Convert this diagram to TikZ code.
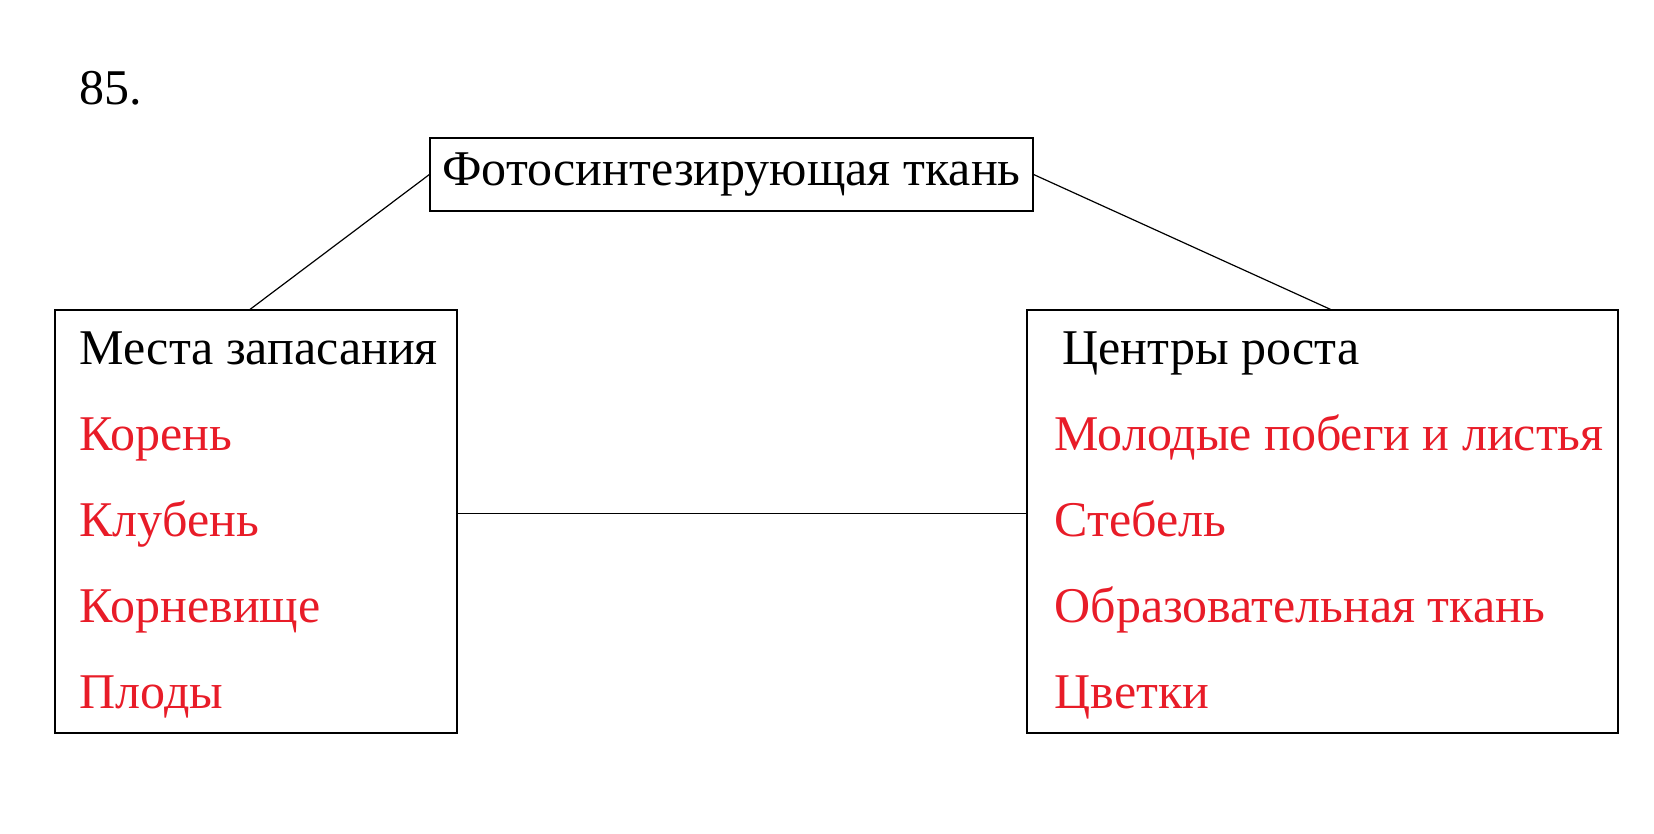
\documentclass[tikz,border=0pt]{standalone}
\usepackage{fontspec}
\setmainfont{Liberation Serif}
\usetikzlibrary{positioning}
\definecolor{answer}{RGB}{232,28,40}

\begin{document}
\begin{tikzpicture}[x=0.5pt,y=-0.5pt,line width=0.6pt,font=\fontsize{25}{30}\selectfont,
                box/.style={draw=black,rectangle,inner sep=0pt},
                word/.style={anchor=base west,inner sep=0pt},
                item/.style={anchor=base west,inner sep=0pt,text=answer}]
                \useasboundingbox (0,0) rectangle (1654,834);
                \node[word] (num) at (79,105) {85.};
                \node[box,minimum width=301.5pt,minimum height=36.5pt] (top) at (731.5,174.5) {Фотосинтезирующая ткань};
                \node[box,minimum width=201pt,minimum height=211.5pt] (lbox) at (256,521.5) {};
                \node[box,minimum width=295.5pt,minimum height=211.5pt] (rbox) at (1322.5,521.5) {};
                \node[word] (a0) at (79,364) {Места запасания};
                \node[below=43pt of a0.base west,item] (a1) {Корень};
                \node[below=43pt of a1.base west,item] (a2) {Клубень};
                \node[below=43pt of a2.base west,item] (a3) {Корневище};
                \node[below=43pt of a3.base west,item] (a4) {Плоды};
                \node[word] (b0) at (1062,364) {Центры роста};
                \node[item] (b1) at (1054,450) {Молодые побеги и листья};
                \node[below=43pt of b1.base west,item] (b2) {Стебель};
                \node[below=43pt of b2.base west,item] (b3) {Образовательная ткань};
                \node[below=43pt of b3.base west,item] (b4) {Цветки};
                \draw (top.west) -- ([xshift=-3pt]lbox.north);
                \draw (top.east) -- ([xshift=4pt]rbox.north);
                \draw ([yshift=4pt]lbox.east) -- ([yshift=4pt]rbox.west);
            \end{tikzpicture}
\end{document}
